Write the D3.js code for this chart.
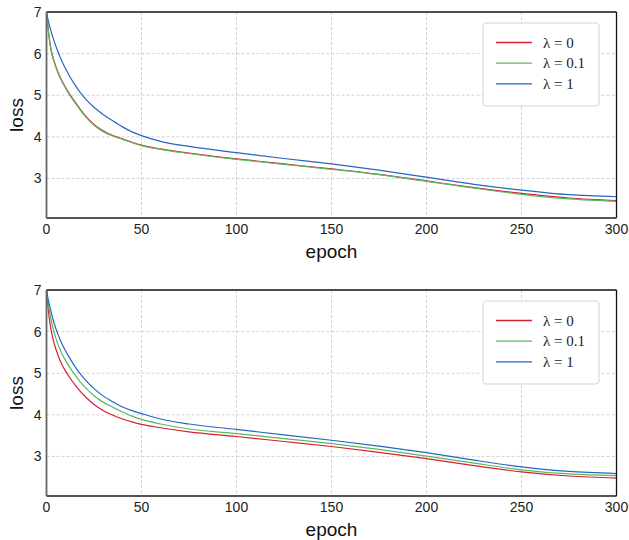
<!DOCTYPE html>
<html>
<head>
<meta charset="utf-8">
<script src="https://cdn.jsdelivr.net/npm/d3@7"></script>
<style>
  body { margin: 0; background: #fff; }
  svg { display: block; }
  .tick-label { font-family: "Liberation Sans", Arial, sans-serif; font-size: 14px; fill: #222; }
  .ax-label { font-family: "Liberation Sans", Arial, sans-serif; font-size: 19px; fill: #111; }
  .legend-text { font-family: "Liberation Serif", "DejaVu Serif", serif; font-size: 15px; fill: #222; }
</style>
</head>
<body>
<svg id="chart" width="629" height="540"></svg>
<script>
// epochs sampled along the curves
const epochs = [0, 1, 2, 4, 6, 8, 10, 12, 15, 18, 21, 25, 30, 35, 40, 45, 50, 60, 75, 100, 125, 150, 175, 200, 225, 250, 275, 300];

// top panel
const topRed   = [7.0, 6.55, 6.20, 5.82, 5.56, 5.36, 5.19, 5.04, 4.84, 4.65, 4.48, 4.30, 4.14, 4.03, 3.95, 3.87, 3.80, 3.71, 3.61, 3.47, 3.35, 3.23, 3.10, 2.94, 2.78, 2.64, 2.53, 2.47];
const topGreen = [7.0, 6.53, 6.18, 5.80, 5.54, 5.34, 5.17, 5.02, 4.82, 4.63, 4.46, 4.28, 4.12, 4.02, 3.94, 3.86, 3.79, 3.70, 3.60, 3.46, 3.34, 3.22, 3.09, 2.93, 2.77, 2.62, 2.51, 2.45];
const topBlue  = [7.0, 6.78, 6.60, 6.30, 6.05, 5.83, 5.64, 5.47, 5.25, 5.05, 4.89, 4.71, 4.53, 4.38, 4.24, 4.12, 4.03, 3.89, 3.77, 3.62, 3.48, 3.35, 3.20, 3.03, 2.86, 2.72, 2.61, 2.56];

// bottom panel
const botRed   = [7.0, 6.50, 6.15, 5.72, 5.44, 5.22, 5.05, 4.91, 4.72, 4.55, 4.41, 4.25, 4.10, 3.99, 3.90, 3.83, 3.77, 3.69, 3.59, 3.48, 3.36, 3.24, 3.10, 2.95, 2.78, 2.63, 2.53, 2.48];
const botGreen = [7.0, 6.65, 6.38, 5.98, 5.70, 5.48, 5.31, 5.16, 4.96, 4.78, 4.63, 4.46, 4.30, 4.18, 4.07, 3.97, 3.89, 3.78, 3.66, 3.55, 3.43, 3.31, 3.17, 3.01, 2.84, 2.68, 2.58, 2.54];
const botBlue  = [7.0, 6.75, 6.55, 6.20, 5.94, 5.72, 5.54, 5.38, 5.16, 4.97, 4.81, 4.63, 4.45, 4.31, 4.19, 4.10, 4.03, 3.90, 3.78, 3.65, 3.52, 3.39, 3.25, 3.09, 2.91, 2.75, 2.64, 2.59];

const seriesNames = ['λ = 0', 'λ = 0.1', 'λ = 1'];
const colors = ['#d62031', '#5cb85c', '#2467c2'];
const xTicks = [0, 50, 100, 150, 200, 250, 300];
const yTicks = [3, 4, 5, 6, 7];

const svg = d3.select('#chart');

function drawPanel(top, series) {
    const left = 46.5, right = 616.5, bottom = top + 206;
    const x = d3.scaleLinear().domain([0, 300]).range([left, right]);
    const y = d3.scaleLinear().domain([2.05, 7]).range([bottom, top]);
    const g = svg.append('g');

    // grid
    g.selectAll('.gx').data(xTicks.filter(d => d > 0 && d < 300)).enter().append('line')
        .attr('x1', d => x(d)).attr('x2', d => x(d)).attr('y1', top).attr('y2', bottom)
        .attr('stroke', '#c8c8c8').attr('stroke-width', 0.8).attr('stroke-dasharray', '3,2');
    g.selectAll('.gy').data(yTicks.filter(d => d < 7)).enter().append('line')
        .attr('x1', left).attr('x2', right).attr('y1', d => y(d)).attr('y2', d => y(d))
        .attr('stroke', '#c8c8c8').attr('stroke-width', 0.8).attr('stroke-dasharray', '3,2');

    // curves
    const line = d3.line().x((d, i) => x(epochs[i])).y(d => y(d)).curve(d3.curveMonotoneX);
    series.forEach((s, i) => {
        g.append('path').attr('d', line(s)).attr('fill', 'none')
            .attr('stroke', colors[i]).attr('stroke-width', 1.2);
    });

    // spines
    g.append('line').attr('x1', left).attr('x2', right).attr('y1', top).attr('y2', top)
        .attr('stroke', '#111').attr('stroke-width', 1.3);
    g.append('line').attr('x1', right).attr('x2', right).attr('y1', top).attr('y2', bottom)
        .attr('stroke', '#111').attr('stroke-width', 1.3);
    g.append('line').attr('x1', left).attr('x2', left).attr('y1', top).attr('y2', bottom)
        .attr('stroke', '#666').attr('stroke-width', 1.8);
    g.append('line').attr('x1', left).attr('x2', right).attr('y1', bottom).attr('y2', bottom)
        .attr('stroke', '#555').attr('stroke-width', 1.8);

    // tick labels
    g.selectAll('.xt').data(xTicks).enter().append('text').attr('class', 'tick-label')
        .attr('x', d => x(d)).attr('y', bottom + 16).attr('text-anchor', 'middle').text(d => d);
    g.selectAll('.yt').data(yTicks).enter().append('text').attr('class', 'tick-label')
        .attr('x', left - 5).attr('y', d => y(d) + 5).attr('text-anchor', 'end').text(d => d);

    // axis labels
    g.append('text').attr('class', 'ax-label').attr('x', (left + right) / 2).attr('y', bottom + 40)
        .attr('text-anchor', 'middle').text('epoch');
    g.append('text').attr('class', 'ax-label')
        .attr('transform', `translate(23,${(top + bottom) / 2}) rotate(-90)`)
        .attr('text-anchor', 'middle').text('loss');

    // legend
    const lx = 483, ly = top + 11;
    g.append('rect').attr('x', lx).attr('y', ly).attr('width', 116).attr('height', 83)
        .attr('rx', 3).attr('fill', '#fff').attr('stroke', '#d4d4d4').attr('stroke-width', 1);
    seriesNames.forEach((name, i) => {
        const ry = ly + 19.5 + i * 20.7;
        g.append('line').attr('x1', lx + 13).attr('x2', lx + 49).attr('y1', ry).attr('y2', ry)
            .attr('stroke', colors[i]).attr('stroke-width', 1.3);
        g.append('text').attr('class', 'legend-text').attr('x', lx + 60).attr('y', ry + 5).text(name);
    });
}

drawPanel(12, [topRed, topGreen, topBlue]);
drawPanel(290, [botRed, botGreen, botBlue]);
</script>
</body>
</html>
